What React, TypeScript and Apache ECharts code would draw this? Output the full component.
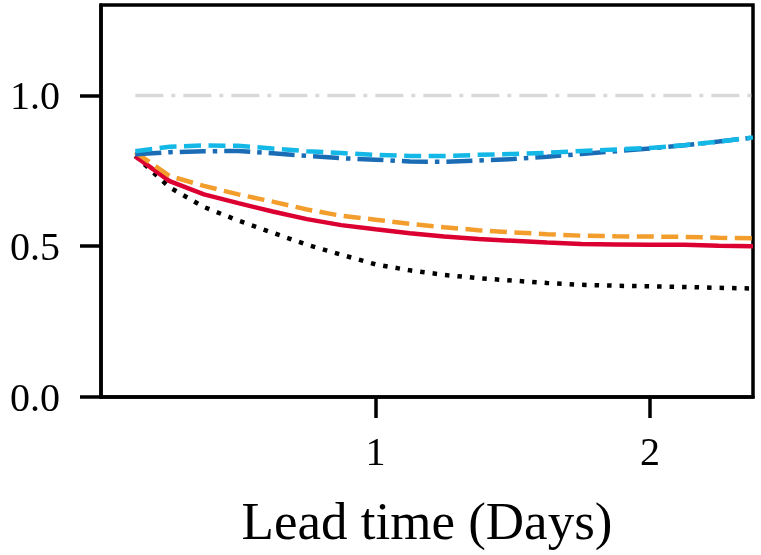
import React, { useEffect, useRef } from "react";
import * as echarts from "echarts";

const leadDays = [0.125, 0.25, 0.375, 0.5, 0.625, 0.75, 0.875, 1.0, 1.125, 1.25, 1.375, 1.5, 1.625, 1.75, 1.875, 2.0, 2.125, 2.25, 2.375];

const redSolid = [0.798, 0.716, 0.672, 0.643, 0.615, 0.590, 0.570, 0.556, 0.543, 0.532, 0.524, 0.518, 0.512, 0.507, 0.506, 0.505, 0.505, 0.502, 0.500];
const orangeDashed = [0.812, 0.733, 0.700, 0.672, 0.648, 0.622, 0.601, 0.588, 0.574, 0.563, 0.553, 0.546, 0.540, 0.535, 0.533, 0.532, 0.531, 0.528, 0.526];
const blackDotted = [0.800, 0.695, 0.630, 0.585, 0.545, 0.505, 0.472, 0.440, 0.420, 0.405, 0.394, 0.386, 0.378, 0.372, 0.369, 0.367, 0.365, 0.362, 0.360];
const darkBlueDashDot = [0.805, 0.812, 0.815, 0.816, 0.808, 0.800, 0.792, 0.787, 0.781, 0.780, 0.784, 0.789, 0.797, 0.806, 0.815, 0.824, 0.835, 0.847, 0.860];
const lightBlueDashed = [0.815, 0.830, 0.834, 0.833, 0.824, 0.815, 0.809, 0.803, 0.799, 0.799, 0.803, 0.806, 0.810, 0.816, 0.821, 0.826, 0.835, 0.847, 0.861];
const referenceLine = [1.0, 1.0];
const referenceDays = [0.125, 2.375];

const xTicks = [1, 2];
const yTicks = [0, 0.5, 1.0];
const xTitle = "Lead time (Days)";

const FONT = "'Liberation Serif', 'Times New Roman', serif";

export default function App() {
  const ref = useRef<HTMLDivElement>(null);
  useEffect(() => {
    if (!ref.current) return;
    const chart = echarts.init(ref.current, undefined, { renderer: "svg" });
    const pair = (xs: number[], ys: number[]) => xs.map((x, i) => [x, ys[i]]);
    const line = (name: string, data: number[], color: string, type: any, width: number, z: number) => ({
      name,
      type: "line",
      data: pair(leadDays, data),
      showSymbol: false,
      symbol: "none",
      smooth: false,
      z,
      lineStyle: { color, width, type, cap: "butt" },
    });
    chart.setOption({
      animation: false,
      grid: {
        left: 101,
        right: 8,
        top: 5,
        bottom: 158,
        show: true,
        borderColor: "#000",
        borderWidth: 3.5,
        backgroundColor: "transparent",
      },
      xAxis: {
        type: "value",
        min: 0,
        max: 2.375,
        name: xTitle,
        nameLocation: "middle",
        nameGap: 97,
        nameTextStyle: { fontFamily: FONT, fontSize: 53, color: "#000" },
        axisLine: { show: true, lineStyle: { color: "#000", width: 3.5 } },
        axisTick: { show: true, inside: false, length: 21, customValues: xTicks, lineStyle: { color: "#000", width: 3.5 } },
        axisLabel: { customValues: xTicks, margin: 34, fontFamily: FONT, fontSize: 40, color: "#000", formatter: (v: number) => String(v) },
        splitLine: { show: false },
      },
      yAxis: {
        type: "value",
        min: 0,
        max: 1.3,
        axisLine: { show: true, lineStyle: { color: "#000", width: 3.5 } },
        axisTick: { show: true, inside: false, length: 21, customValues: yTicks, lineStyle: { color: "#000", width: 3.5 } },
        axisLabel: { customValues: yTicks, margin: 41, fontFamily: FONT, fontSize: 40, color: "#000", formatter: (v: number) => v.toFixed(1) },
        splitLine: { show: false },
      },
      series: [
        {
          name: "reference",
          type: "line",
          data: pair(referenceDays, referenceLine),
          showSymbol: false,
          symbol: "none",
          z: 1,
          lineStyle: { color: "#d9d9d9", width: 3.5, type: [28, 8, 4, 8] },
        },
        line("blackDotted", blackDotted, "#000000", [4.5, 8], 4.5, 2),
        line("redSolid", redSolid, "#dc0032", "solid", 4.5, 3),
        line("orangeDashed", orangeDashed, "#f29d2c", [17, 7.5], 4.5, 4),
        line("darkBlueDashDot", darkBlueDashDot, "#1a6db5", [26, 7, 4.5, 7], 4.5, 5),
        line("lightBlueDashed", lightBlueDashed, "#13b8e6", [17, 7.5], 4.5, 6),
      ],
    });
    return () => chart.dispose();
  }, []);
  return <div ref={ref} style={{ position: "fixed", left: 0, top: 0, width: 761, height: 555 }} />;
}
